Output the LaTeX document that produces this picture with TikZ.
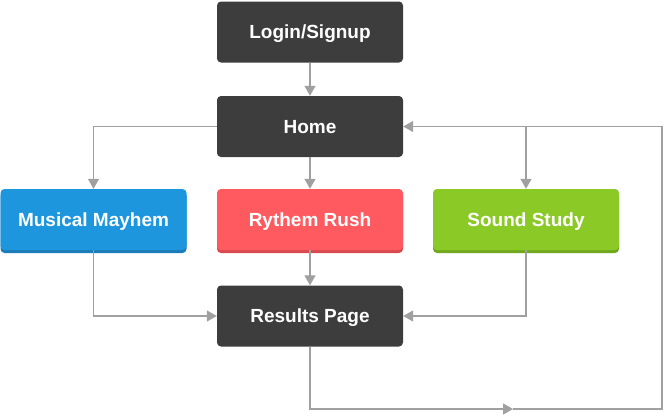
\documentclass[tikz,border=0pt]{standalone}
\usepackage{fontspec}
\setmainfont{Liberation Sans}
\usetikzlibrary{positioning, arrows.meta, shadows}

\definecolor{boxdark}{HTML}{3D3D3D}
\definecolor{mayhemblue}{HTML}{1E96DE}
\definecolor{mayhemshade}{HTML}{1A7CB8}
\definecolor{rushred}{HTML}{FF5A5F}
\definecolor{rushshade}{HTML}{D84A4F}
\definecolor{studygreen}{HTML}{8AC926}
\definecolor{studyshade}{HTML}{71A81E}
\definecolor{linegray}{HTML}{A0A0A0}

\begin{document}
\begin{tikzpicture}[
        x=1pt, y=-1pt,
        >={Triangle[width=11pt, length=10pt]},
        page/.style={rectangle, rounded corners=4pt, fill=boxdark, text=white,
            minimum width=186pt, minimum height=61pt, inner sep=0pt,
            text height=13.5pt, text depth=0pt,
            font=\fontsize{19}{22}\selectfont\bfseries},
        game/.style 2 args={page, fill=#1,
            drop shadow={shadow xshift=0pt, shadow yshift=-3pt, opacity=1, fill=#2}},
        link/.style={draw=linegray, line width=1.3pt, ->},
    ]
    \useasboundingbox (0,0) rectangle (664,416);

    % Pages
    \node[page] (Login) at (310,32) {Login/Signup};
    \node[page] (Home) at (310,126.5) {Home};
    \node[page] (Results) at (310,316) {Results Page};

    % Games
    \node[game={mayhemblue}{mayhemshade}] (Mayhem) at (93.5,219.5) {Musical Mayhem};
    \node[game={rushred}{rushshade}] (Rush) at (310,219.5) {Rythem Rush};
    \node[game={studygreen}{studyshade}] (Study) at (526,219.5) {Sound Study};

    % Loop corners
    \coordinate (loopB) at (662,409);
    \coordinate (midB) at (513,409);
    \coordinate (fork) at (526,126.5);

    % Connections
    \path[link] (Login) -- (Home);
    \path[link] (Home.west) -| (Mayhem.north);
    \path[link] (Home) -- (Rush);
    \path[link] (fork) -- (Study.north);
    \path[link] (Mayhem.south) |- (Results.west);
    \path[link] (Rush) -- (Results);
    \path[link] (Study.south) |- (Results.east);
    \path[link] (Results.south) |- (midB);
    \path[link] (midB) -- (loopB) |- (Home.east);
\end{tikzpicture}
\end{document}
